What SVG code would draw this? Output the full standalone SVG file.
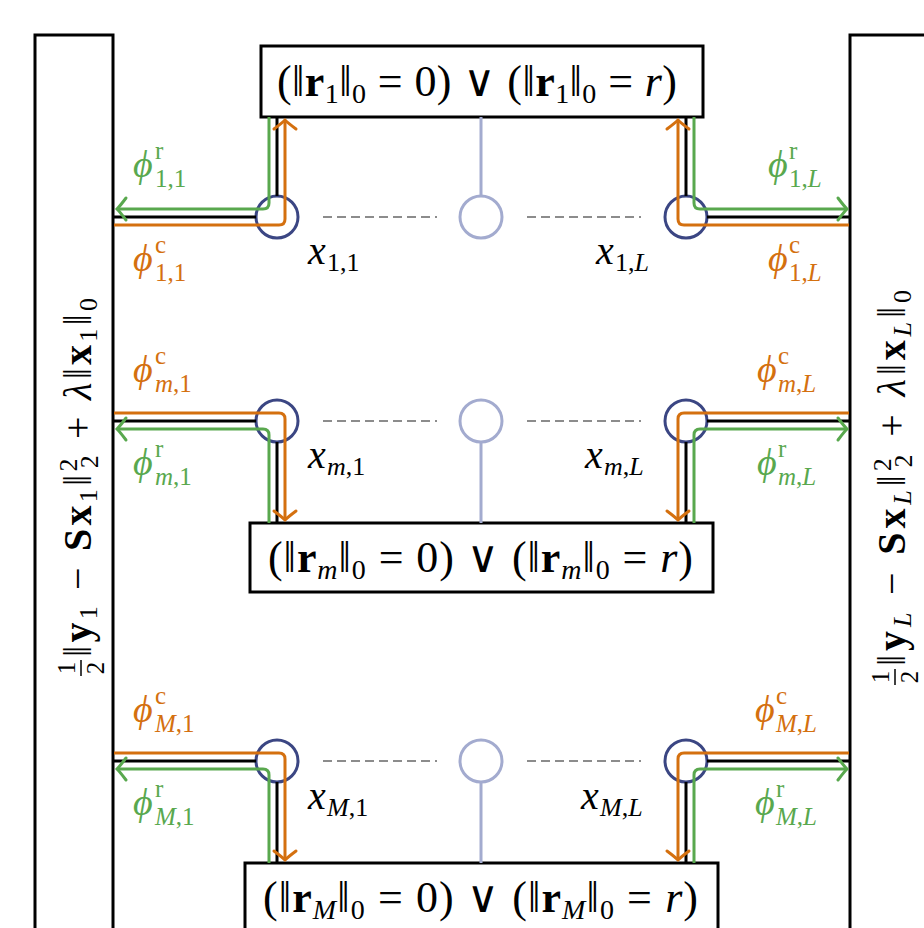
<svg xmlns="http://www.w3.org/2000/svg" width="924" height="928" viewBox="0 0 924 928">
<style>
.box{fill:#fff;stroke:#000;stroke-width:3}
.blk{stroke:#000;stroke-width:3;fill:none}
.org{stroke:#d4700f;stroke-width:3;fill:none}
.grn{stroke:#59a84e;stroke-width:3;fill:none}
.var{fill:#fff;stroke:#3b4683;stroke-width:3}
.fac{fill:#fff;stroke:#a3abcf;stroke-width:3}
.fl{stroke:#a3abcf;stroke-width:3;fill:none}
.dash{stroke:#8c8c8c;stroke-width:2;stroke-dasharray:9 5;fill:none}
text{font-family:"Liberation Serif","DejaVu Serif",serif;fill:#000}
.m{font-size:44px}
.v{font-size:40px}
.lb{font-size:38px}
.xl{font-size:40px}
.it{font-style:italic}
.bf{font-weight:bold}
.s{font-size:26px}
.s2{font-size:28px}
.s3{font-size:25px}
.fr{font-size:25px}
.go{fill:#d4700f}
.gg{fill:#59a84e}
</style>
<defs>
<marker id="ao" markerUnits="userSpaceOnUse" viewBox="-12 -13 14 26" refX="0" refY="0" markerWidth="14" markerHeight="26" orient="auto" overflow="visible">
<path d="M-9,-11 Q-3,-3 0,0 Q-3,3 -9,11" fill="none" stroke="#d4700f" stroke-width="3" stroke-linecap="round"/>
</marker>
<marker id="ag" markerUnits="userSpaceOnUse" viewBox="-12 -13 14 26" refX="0" refY="0" markerWidth="14" markerHeight="26" orient="auto" overflow="visible">
<path d="M-9,-11 Q-3,-3 0,0 Q-3,3 -9,11" fill="none" stroke="#59a84e" stroke-width="3" stroke-linecap="round"/>
</marker>
</defs>
<rect width="924" height="928" fill="#fff"/>

<g id="check-1">
<rect class="box" x="35" y="35" width="78" height="910"/>
<g transform="translate(91,487) rotate(-90)">
<text class="fr" x="-181" y="-16" text-anchor="middle">1</text>
<line x1="-189" y1="-10" x2="-173" y2="-10" stroke="#000" stroke-width="1.5"/>
<text class="fr" x="-181" y="13" text-anchor="middle">2</text>
<text class="v" x="-170" y="0" textLength="359" lengthAdjust="spacing">‖<tspan class="bf">y</tspan><tspan class="s" dy="6">1</tspan><tspan dy="-6"> − </tspan><tspan class="bf">Sx</tspan><tspan class="s" dy="6">1</tspan><tspan dy="-6">‖</tspan><tspan class="s" dy="-14">2</tspan><tspan class="s" dx="-13" dy="21">2</tspan><tspan dy="-7"> + </tspan><tspan class="it">λ</tspan>‖<tspan class="bf">x</tspan><tspan class="s" dy="6">1</tspan><tspan dy="-6">‖</tspan><tspan class="s" dy="6">0</tspan></text>
</g>
</g>

<g id="check-L">
<rect class="box" x="850" y="35" width="100" height="910"/>
<g transform="translate(905,487) rotate(-90)">
<text class="fr" x="-190" y="-16" text-anchor="middle">1</text>
<line x1="-198" y1="-10" x2="-182" y2="-10" stroke="#000" stroke-width="1.5"/>
<text class="fr" x="-190" y="13" text-anchor="middle">2</text>
<text class="v" x="-179" y="0" textLength="376" lengthAdjust="spacing">‖<tspan class="bf">y</tspan><tspan class="s it" dy="6">L</tspan><tspan dy="-6"> − </tspan><tspan class="bf">Sx</tspan><tspan class="s it" dy="6">L</tspan><tspan dy="-6">‖</tspan><tspan class="s" dy="-14">2</tspan><tspan class="s" dx="-13" dy="21">2</tspan><tspan dy="-7"> + </tspan><tspan class="it">λ</tspan>‖<tspan class="bf">x</tspan><tspan class="s it" dy="6">L</tspan><tspan dy="-6">‖</tspan><tspan class="s" dy="6">0</tspan></text>
</g>
</g>

<g id="factor-1">
<rect class="box" x="261" y="46" width="442" height="71"/>
<text class="m" x="277" y="96" textLength="400" lengthAdjust="spacing">(‖<tspan class="bf">r</tspan><tspan class="s2" dy="7">1</tspan><tspan dy="-7">‖</tspan><tspan class="s2" dy="7">0</tspan><tspan dy="-7"> = 0) ∨ (‖</tspan><tspan class="bf">r</tspan><tspan class="s2" dy="7">1</tspan><tspan dy="-7">‖</tspan><tspan class="s2" dy="7">0</tspan><tspan dy="-7"> = </tspan><tspan class="it">r</tspan>)</text>
</g>
<g id="factor-m">
<rect class="box" x="250" y="523" width="463" height="69"/>
<text class="m" x="268" y="572" textLength="425" lengthAdjust="spacing">(‖<tspan class="bf">r</tspan><tspan class="s2 it" dy="7">m</tspan><tspan dy="-7">‖</tspan><tspan class="s2" dy="7">0</tspan><tspan dy="-7"> = 0) ∨ (‖</tspan><tspan class="bf">r</tspan><tspan class="s2 it" dy="7">m</tspan><tspan dy="-7">‖</tspan><tspan class="s2" dy="7">0</tspan><tspan dy="-7"> = </tspan><tspan class="it">r</tspan>)</text>
</g>
<g id="factor-M">
<rect class="box" x="245" y="863" width="473" height="80"/>
<text class="m" x="263" y="912" textLength="435" lengthAdjust="spacing">(‖<tspan class="bf">r</tspan><tspan class="s2 it" dy="7">M</tspan><tspan dy="-7">‖</tspan><tspan class="s2" dy="7">0</tspan><tspan dy="-7"> = 0) ∨ (‖</tspan><tspan class="bf">r</tspan><tspan class="s2 it" dy="7">M</tspan><tspan dy="-7">‖</tspan><tspan class="s2" dy="7">0</tspan><tspan dy="-7"> = </tspan><tspan class="it">r</tspan>)</text>
</g>

<g id="var-1-1"><circle class="var" cx="277" cy="217" r="21"/><text class="xl"><tspan class="it" x="308" y="264">x</tspan><tspan class="s" x="327" y="271">1,1</tspan></text></g>
<g id="var-1-L"><circle class="var" cx="686" cy="217" r="21"/><text class="xl"><tspan class="it" x="596" y="264">x</tspan><tspan class="s" x="615" y="271">1,<tspan class="it">L</tspan></tspan></text></g>
<g id="var-m-1"><circle class="var" cx="277" cy="421" r="21"/><text class="xl"><tspan class="it" x="308" y="468">x</tspan><tspan class="s" x="327" y="475"><tspan class="it">m</tspan>,1</tspan></text></g>
<g id="var-m-L"><circle class="var" cx="686" cy="421" r="21"/><text class="xl"><tspan class="it" x="585" y="468">x</tspan><tspan class="s" x="604" y="475"><tspan class="it">m</tspan>,<tspan class="it">L</tspan></tspan></text></g>
<g id="var-M-1"><circle class="var" cx="277" cy="761" r="21"/><text class="xl"><tspan class="it" x="308" y="809">x</tspan><tspan class="s" x="327" y="816"><tspan class="it">M</tspan>,1</tspan></text></g>
<g id="var-M-L"><circle class="var" cx="686" cy="761" r="21"/><text class="xl"><tspan class="it" x="581" y="809">x</tspan><tspan class="s" x="600" y="816"><tspan class="it">M</tspan>,<tspan class="it">L</tspan></tspan></text></g>

<g id="var-1-mid"><circle class="fac" cx="481" cy="217" r="21"/></g>
<g id="var-m-mid"><circle class="fac" cx="481" cy="421" r="21"/></g>
<g id="var-M-mid"><circle class="fac" cx="481" cy="761" r="21"/></g>

<g id="connectors">
<path class="blk" d="M113,217 H256 M277,196 V117 M850,217 H707 M686,196 V117"/>
<path class="blk" d="M113,421 H256 M277,442 V523 M850,421 H707 M686,442 V523"/>
<path class="blk" d="M113,761 H256 M277,782 V863 M850,761 H707 M686,782 V863"/>
<path class="fl" d="M481,117 V196 M481,442 V523 M481,782 V863"/>
<path class="dash" d="M323,217 H437 M527,217 H641 M323,421 H437 M527,421 H641 M323,761 H437 M527,761 H641"/>

<path class="grn" marker-end="url(#ag)" d="M269,117 V203 Q269,209 263,209 H117"/>
<path class="org" marker-end="url(#ao)" d="M114,225 H279 Q285,225 285,219 V120"/>
<path class="grn" marker-end="url(#ag)" d="M694,117 V203 Q694,209 700,209 H847"/>
<path class="org" marker-end="url(#ao)" d="M849,225 H684 Q678,225 678,219 V120"/>

<path class="org" marker-end="url(#ao)" d="M114,413 H279 Q285,413 285,419 V520"/>
<path class="grn" marker-end="url(#ag)" d="M269,523 V435 Q269,429 263,429 H117"/>
<path class="org" marker-end="url(#ao)" d="M849,413 H684 Q678,413 678,419 V520"/>
<path class="grn" marker-end="url(#ag)" d="M694,523 V435 Q694,429 700,429 H847"/>

<path class="org" marker-end="url(#ao)" d="M114,753 H279 Q285,753 285,759 V860"/>
<path class="grn" marker-end="url(#ag)" d="M269,863 V775 Q269,769 263,769 H117"/>
<path class="org" marker-end="url(#ao)" d="M849,753 H684 Q678,753 678,759 V860"/>
<path class="grn" marker-end="url(#ag)" d="M694,863 V775 Q694,769 700,769 H847"/>
</g>

<g id="labels">
<text class="lb gg"><tspan class="it" x="133" y="177">ϕ</tspan><tspan class="s3" x="155" y="159">r</tspan><tspan class="s3" x="155" y="187">1,1</tspan></text>
<text class="lb go"><tspan class="it" x="133" y="271">ϕ</tspan><tspan class="s3" x="155" y="253">c</tspan><tspan class="s3" x="155" y="281">1,1</tspan></text>
<text class="lb gg"><tspan class="it" x="768" y="177">ϕ</tspan><tspan class="s3" x="789" y="159">r</tspan><tspan class="s3" x="789" y="187">1,<tspan class="it">L</tspan></tspan></text>
<text class="lb go"><tspan class="it" x="768" y="271">ϕ</tspan><tspan class="s3" x="789" y="253">c</tspan><tspan class="s3" x="789" y="281">1,<tspan class="it">L</tspan></tspan></text>

<text class="lb go"><tspan class="it" x="133" y="382">ϕ</tspan><tspan class="s3" x="155" y="364">c</tspan><tspan class="s3" x="155" y="392"><tspan class="it">m</tspan>,1</tspan></text>
<text class="lb gg"><tspan class="it" x="133" y="475">ϕ</tspan><tspan class="s3" x="155" y="457">r</tspan><tspan class="s3" x="155" y="485"><tspan class="it">m</tspan>,1</tspan></text>
<text class="lb go"><tspan class="it" x="757" y="382">ϕ</tspan><tspan class="s3" x="778" y="364">c</tspan><tspan class="s3" x="778" y="392"><tspan class="it">m</tspan>,<tspan class="it">L</tspan></tspan></text>
<text class="lb gg"><tspan class="it" x="757" y="475">ϕ</tspan><tspan class="s3" x="778" y="457">r</tspan><tspan class="s3" x="778" y="485"><tspan class="it">m</tspan>,<tspan class="it">L</tspan></tspan></text>

<text class="lb go"><tspan class="it" x="133" y="722">ϕ</tspan><tspan class="s3" x="155" y="704">c</tspan><tspan class="s3" x="155" y="732"><tspan class="it">M</tspan>,1</tspan></text>
<text class="lb gg"><tspan class="it" x="133" y="815">ϕ</tspan><tspan class="s3" x="155" y="797">r</tspan><tspan class="s3" x="155" y="825"><tspan class="it">M</tspan>,1</tspan></text>
<text class="lb go"><tspan class="it" x="755" y="722">ϕ</tspan><tspan class="s3" x="776" y="704">c</tspan><tspan class="s3" x="776" y="732"><tspan class="it">M</tspan>,<tspan class="it">L</tspan></tspan></text>
<text class="lb gg"><tspan class="it" x="755" y="815">ϕ</tspan><tspan class="s3" x="776" y="797">r</tspan><tspan class="s3" x="776" y="825"><tspan class="it">M</tspan>,<tspan class="it">L</tspan></tspan></text>
</g>
</svg>
